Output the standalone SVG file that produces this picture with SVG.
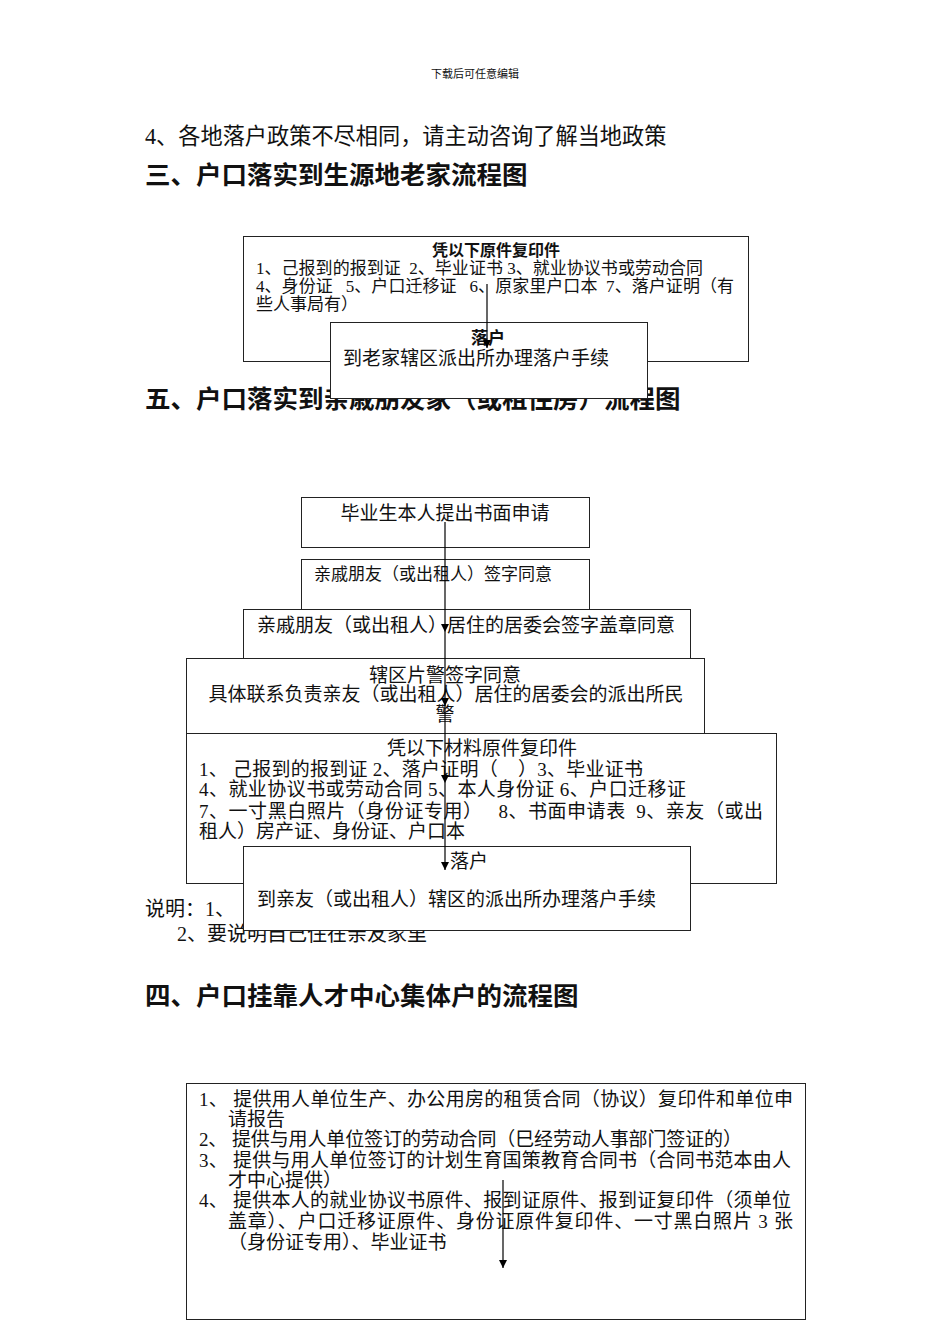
<svg xmlns="http://www.w3.org/2000/svg" width="950" height="1344" viewBox="0 0 950 1344">
<style>
.bg{fill:#fff}
.box{fill:#fff;stroke:#222;stroke-width:1}
.t{font-family:"Liberation Serif","Noto Sans CJK SC",serif;fill:#111;white-space:pre}
.h{font-family:"Liberation Sans","Noto Sans CJK SC",sans-serif;font-weight:bold;font-size:25.5px;fill:#111}
.s17{font-size:17px}
.s19{font-size:19px}
.b{font-weight:bold}
.c{text-anchor:middle}
.ln{stroke:#000;stroke-width:1.2;fill:none;marker-end:url(#ah)}
</style>
<defs>
<marker id="ah" viewBox="0 0 10 10" refX="10" refY="5" markerWidth="8" markerHeight="8" markerUnits="userSpaceOnUse" orient="auto">
<path d="M0,0 L10,5 L0,10 z" fill="#000"/>
</marker>
</defs>
<rect class="bg" x="0" y="0" width="950" height="1344"/>
<text class="t c" x="475" y="78" font-size="11">下载后可任意编辑</text>
<text class="t" x="145" y="144" font-size="22.2">4、各地落户政策不尽相同，请主动咨询了解当地政策</text>
<text class="h" x="145" y="184">三、户口落实到生源地老家流程图</text>
<text class="h" x="145" y="408">五、户口落实到亲戚朋友家（或租住房）流程图</text>

<g id="n3a">
<rect class="box" x="243.5" y="236.5" width="505" height="125"/>
<text class="t b c" x="496" y="256" font-size="16">凭以下原件复印件</text>
<text class="t s17" x="256" y="274" textLength="447" lengthAdjust="spacing">1、己报到的报到证  2、毕业证书 3、就业协议书或劳动合同</text>
<text class="t s17" x="256" y="292" textLength="478" lengthAdjust="spacing">4、身份证   5、户口迁移证   6、原家里户口本  7、落户证明（有</text>
<text class="t s17" x="256" y="310">些人事局有）</text>
</g>
<g id="n3b">
<rect class="box" x="330.5" y="322.5" width="317" height="76"/>
<text class="t b c s17" x="488" y="344">落户</text>
<text class="t s19" x="343" y="365">到老家辖区派出所办理落户手续</text>
</g>

<text class="t" x="145" y="916" font-size="20">说明：1、</text>
<text class="t" x="177" y="941" font-size="20">2、要说明自己住在亲友家里</text>

<g id="n5a">
<rect class="box" x="301.5" y="497.5" width="288" height="50"/>
<text class="t s19 c" x="445" y="520">毕业生本人提出书面申请</text>
</g>
<g id="n5b">
<rect class="box" x="301.5" y="559.5" width="288" height="50"/>
<text class="t s17" x="314" y="580">亲戚朋友（或出租人）签字同意</text>
</g>
<g id="n5c">
<rect class="box" x="243.5" y="609.5" width="447" height="49"/>
<text class="t s19" x="257" y="632">亲戚朋友（或出租人）居住的居委会签字盖章同意</text>
</g>
<g id="n5d">
<rect class="box" x="186.5" y="658.5" width="518" height="75"/>
<text class="t s19 c" x="445" y="682">辖区片警签字同意</text>
<text class="t s19 c" x="446" y="701">具体联系负责亲友（或出租人）居住的居委会的派出所民</text>
<text class="t s19 c" x="445" y="721">警</text>
</g>
<g id="n5e">
<rect class="box" x="186.5" y="733.5" width="590" height="150"/>
<text class="t s19 c" x="482" y="755">凭以下材料原件复印件</text>
<text class="t s19" x="199" y="776" textLength="444" lengthAdjust="spacing">1、 己报到的报到证 2、落户证明（    ）3、毕业证书</text>
<text class="t s19" x="199" y="796" textLength="487" lengthAdjust="spacing">4、就业协议书或劳动合同 5、本人身份证 6、户口迁移证</text>
<text class="t s19" x="199" y="818" textLength="564" lengthAdjust="spacing">7、一寸黑白照片（身份证专用）   8、书面申请表  9、亲友（或出</text>
<text class="t s19" x="199" y="838">租人）房产证、身份证、户口本</text>
</g>
<g id="n5f">
<rect class="box" x="243.5" y="846.5" width="447" height="84"/>
<text class="t s19" x="450" y="868">落户</text>
<text class="t s19" x="257" y="906">到亲友（或出租人）辖区的派出所办理落户手续</text>
</g>

<text class="h" x="145" y="1005">四、户口挂靠人才中心集体户的流程图</text>
<g id="n4a">
<rect class="box" x="186.5" y="1083.5" width="619" height="236"/>
<text class="t s19" x="199" y="1106" textLength="594" lengthAdjust="spacing">1、 提供用人单位生产、办公用房的租赁合同（协议）复印件和单位申</text>
<text class="t s19" x="228" y="1126">请报告</text>
<text class="t s19" x="199" y="1146" textLength="543" lengthAdjust="spacing">2、 提供与用人单位签订的劳动合同（巳经劳动人事部门签证的）</text>
<text class="t s19" x="199" y="1167" textLength="592" lengthAdjust="spacing">3、 提供与用人单位签订的计划生育国策教育合同书（合同书范本由人</text>
<text class="t s19" x="228" y="1187">才中心提供）</text>
<text class="t s19" x="199" y="1207" textLength="592" lengthAdjust="spacing">4、 提供本人的就业协议书原件、报到证原件、报到证复印件（须单位</text>
<text class="t s19" x="228" y="1228" textLength="565" lengthAdjust="spacing">盖章）、户口迁移证原件、身份证原件复印件、一寸黑白照片 3 张</text>
<text class="t s19" x="228" y="1249">（身份证专用）、毕业证书</text>
</g>

<g id="connectors">
<line class="ln" x1="487" y1="284" x2="487" y2="348"/>
<line class="ln" x1="445" y1="522" x2="445" y2="632"/>
<line class="ln" x1="445" y1="632" x2="445" y2="706"/>
<line class="ln" x1="445" y1="706" x2="445" y2="783"/>
<line class="ln" x1="445" y1="783" x2="445" y2="870"/>
<line class="ln" x1="503" y1="1180" x2="503" y2="1268"/>
</g>
</svg>
